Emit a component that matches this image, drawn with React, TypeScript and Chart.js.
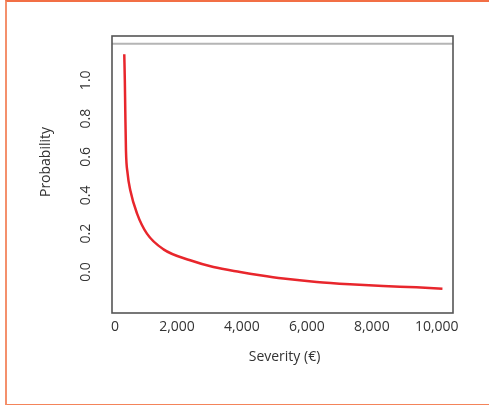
import React, { useEffect, useRef } from "react";
import { Chart, registerables } from "chart.js";

Chart.register(...registerables);

// Severity (€) on the x axis
const severity = [378, 395, 409, 430, 480, 563, 769, 1076, 1586, 2407, 3123, 3944, 4559, 5275, 6302, 7325, 8349, 9376, 10175];
// Probability values
const probability = [1.136, 1.0, 0.84, 0.634, 0.515, 0.426, 0.306, 0.2, 0.118, 0.061, 0.026, 0.0, -0.017, -0.034, -0.052, -0.064, -0.073, -0.08, -0.087];
// Grey reference line
const refLineX = [0, 10500];
const refLineY = [1.19, 1.19];

const xTicks = [0, 2000, 4000, 6000, 8000, 10000];
const yTicks = [0, 0.2, 0.4, 0.6, 0.8, 1.0];
const xTitle = "Severity (€)";
const yTitle = "Probability";

const FONT = "14px 'Open Sans', 'DejaVu Sans', sans-serif";
const TEXT = "#333333";

const decorPlugin = {
  id: "decor",
  afterDraw(chart: any) {
    const { ctx, chartArea, scales } = chart;
    const xs = scales.x;
    const ys = scales.y;
    ctx.save();
    // plot box
    ctx.strokeStyle = "#555555";
    ctx.lineWidth = 1.6;
    ctx.strokeRect(chartArea.left, chartArea.top, chartArea.right - chartArea.left, chartArea.bottom - chartArea.top);

    ctx.fillStyle = TEXT;
    ctx.font = FONT;
    // x tick labels
    ctx.textAlign = "center";
    ctx.textBaseline = "middle";
    xTicks.forEach((v) => {
      const px = xs.getPixelForValue(v);
      const label = v.toLocaleString("en-US");
      ctx.fillText(label, v === 0 ? px + 3 : px, 327);
    });
    // x title
    ctx.fillText(xTitle, (chartArea.left + chartArea.right) / 2 + 2, 357);

    // y tick labels (rotated)
    yTicks.forEach((v) => {
      const py = ys.getPixelForValue(v);
      ctx.save();
      ctx.translate(86, py);
      ctx.rotate(-Math.PI / 2);
      ctx.textAlign = "center";
      ctx.textBaseline = "middle";
      ctx.fillText(v.toFixed(1), 0, 0);
      ctx.restore();
    });
    // y title
    ctx.save();
    ctx.translate(46, 162);
    ctx.rotate(-Math.PI / 2);
    ctx.textAlign = "center";
    ctx.textBaseline = "middle";
    ctx.fillText(yTitle, 0, 0);
    ctx.restore();
    ctx.restore();
  },
};

export default function App() {
  const ref = useRef<HTMLCanvasElement>(null);
  useEffect(() => {
    if (!ref.current) return;
    const chart = new Chart(ref.current, {
      type: "scatter",
      data: {
        datasets: [
          {
            data: refLineX.map((x, i) => ({ x, y: refLineY[i] })),
            showLine: true,
            borderColor: "#b5b5b5",
            borderWidth: 2,
            pointRadius: 0,
          },
          {
            data: severity.map((x, i) => ({ x, y: probability[i] })),
            showLine: true,
            borderColor: "#e8262c",
            borderWidth: 2.5,
            pointRadius: 0,
            cubicInterpolationMode: "monotone",
          },
        ],
      },
      options: {
        responsive: false,
        animation: false,
        layout: { padding: { left: 112, top: 36, right: 36, bottom: 92 } },
        plugins: { legend: { display: false }, tooltip: { enabled: false } },
        scales: {
          x: { type: "linear", min: 0, max: 10500, display: false },
          y: { type: "linear", min: -0.214, max: 1.231, display: false },
        },
      },
      plugins: [decorPlugin],
    });
    return () => chart.destroy();
  }, []);
  return (
    <div style={{ position: "fixed", left: 0, top: 0, width: 489, height: 405, background: "#fff" }}>
      <div
        style={{
          position: "absolute",
          left: 5,
          top: 0,
          width: 484,
          height: 402,
          borderTop: "2px solid #f26f45",
          borderLeft: "2px solid #f4906c",
          borderBottom: "2px solid #f4845a",
        }}
      />
      <canvas ref={ref} width={489} height={405} style={{ position: "absolute", left: 0, top: 0 }} />
    </div>
  );
}
